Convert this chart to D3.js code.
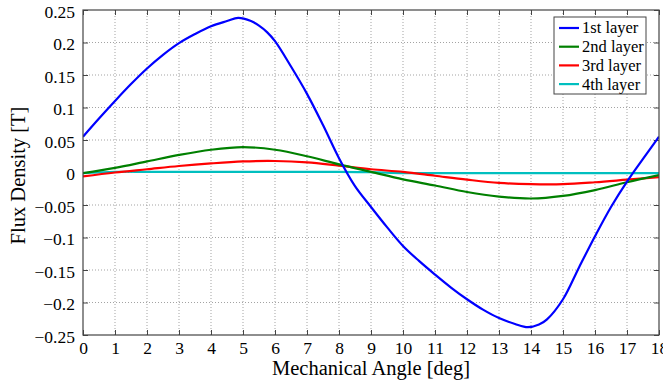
<!DOCTYPE html>
<html lang="en">
<head>
<meta charset="utf-8">
<style type="text/css">
    body { margin: 0; background: #fff; }
    svg { display: block; font-family: "Liberation Serif", "Times New Roman", serif; }
    svg text { font-family: "Liberation Serif", "Times New Roman", serif; }
    .grid line { stroke: #999; stroke-dasharray: 1,2; stroke-width: 0.9px; }
</style>
</head>
<body>
<svg width="663" height="383"></svg>
<script src="https://cdnjs.cloudflare.com/ajax/libs/d3/7.8.5/d3.min.js"></script>
<script type="text/javascript">

    // values
    var angles1 = [0, 0.5, 1, 1.5, 2, 2.5, 3, 3.5, 4, 4.5, 4.85, 5.25, 5.5, 5.75, 6, 6.5, 7, 7.5, 8, 8.5, 9, 9.5, 10,
                   10.5, 11, 11.5, 12, 12.5, 13, 13.5, 13.9, 14.25, 14.5, 15, 15.5, 16, 16.5, 17, 17.5, 18];
    var layer1 = [0.055, 0.083, 0.110, 0.136, 0.160, 0.181, 0.199, 0.213, 0.225, 0.233, 0.238, 0.233, 0.226, 0.216, 0.202, 0.163, 0.121, 0.073, 0.022, -0.021, -0.053, -0.084, -0.113,
                  -0.136, -0.157, -0.177, -0.195, -0.211, -0.224, -0.233, -0.238, -0.234, -0.226, -0.195, -0.146, -0.098, -0.053, -0.014, 0.021, 0.055];

    var angles = [0, 1, 2, 3, 4, 5, 6, 7, 8, 9, 10, 11, 12, 13, 14, 15, 16, 17, 18];
    var layer2 = [-0.001, 0.007, 0.017, 0.027, 0.035, 0.039, 0.035, 0.025, 0.0125, 0.001, -0.0105, -0.020, -0.030, -0.037, -0.040, -0.036, -0.027, -0.015, -0.004];
    var layer3 = [-0.006, 0.000, 0.005, 0.010, 0.014, 0.017, 0.0177, 0.0156, 0.0105, 0.005, 0.001, -0.005, -0.011, -0.016, -0.018, -0.018, -0.015, -0.011, -0.007];
    var layer4 = [-0.001, 0.001, 0.001, 0.001, 0.001, 0.001, 0.001, 0.001, 0.001, 0.0005, -0.001, -0.001, -0.001, -0.001, -0.001, -0.001, -0.001, -0.001, -0.001];

    var xTicks = d3.range(0, 19, 1);
    var yTicks = [-0.25, -0.2, -0.15, -0.1, -0.05, 0, 0.05, 0.1, 0.15, 0.2, 0.25];
    var names = ["1st layer", "2nd layer", "3rd layer", "4th layer"];
    var colors = ["#0000ff", "#008000", "#ff0000", "#00bfbf"];

    var series = [
        {name: names[0], x: angles1, y: layer1, color: colors[0]},
        {name: names[1], x: angles, y: layer2, color: colors[1]},
        {name: names[2], x: angles, y: layer3, color: colors[2]},
        {name: names[3], x: angles, y: layer4, color: colors[3]}
    ];

    var svg = d3.select("svg"),
        margin = {top: 10, right: 4, bottom: 48, left: 83},
        width = +svg.attr("width") - margin.left - margin.right,
        height = +svg.attr("height") - margin.top - margin.bottom;

    var g = svg.append("g").attr("transform", "translate(" + margin.left + "," + margin.top + ")");

    var x = d3.scaleLinear().domain([0, 18]).range([0, width]);
    var y = d3.scaleLinear().domain([-0.25, 0.25]).range([height, 0]);

    function fmt(d) {
        var s = d3.format("")(+d.toFixed(2));
        return s.replace("-", "\u2212");
    }

    // grid
    g.append("g").attr("class", "grid")
        .selectAll("line").data(xTicks.slice(1, -1)).enter().append("line")
        .attr("x1", function (d) { return x(d); }).attr("x2", function (d) { return x(d); })
        .attr("y1", 0).attr("y2", height);
    g.append("g").attr("class", "grid")
        .selectAll("line").data(yTicks.slice(1, -1)).enter().append("line")
        .attr("x1", 0).attr("x2", width)
        .attr("y1", function (d) { return y(d); }).attr("y2", function (d) { return y(d); });

    // axes (inner ticks, box style)
    var xAxis = g.append("g").attr("transform", "translate(0," + height + ")")
        .call(d3.axisBottom(x).tickValues(xTicks).tickSize(-5).tickPadding(6).tickFormat(fmt));
    var xTop = g.append("g")
        .call(d3.axisTop(x).tickValues(xTicks).tickSize(-5).tickFormat(""));
    var yAxis = g.append("g")
        .call(d3.axisLeft(y).tickValues(yTicks).tickSize(-5).tickPadding(8).tickFormat(fmt));
    var yRight = g.append("g").attr("transform", "translate(" + width + ",0)")
        .call(d3.axisRight(y).tickValues(yTicks).tickSize(-5).tickFormat(""));

    [xAxis, xTop, yAxis, yRight].forEach(function (a) {
        a.attr("font-family", "Liberation Serif, Times New Roman, serif").attr("font-size", 17.5);
        a.select(".domain").remove();
        a.selectAll(".tick line").attr("stroke", "#444");
        a.selectAll(".tick text").attr("fill", "#000");
    });
    xAxis.selectAll(".tick text").attr("dy", "0.74em");
    yAxis.selectAll(".tick text").attr("dy", "0.42em");

    // curves
    var line = d3.line()
        .x(function (d) { return x(d[0]); })
        .y(function (d) { return y(d[1]); })
        .curve(d3.curveCatmullRom.alpha(0.5));

    svg.append("defs").append("clipPath").attr("id", "plotclip")
        .append("rect").attr("width", width).attr("height", height);

    g.append("g").attr("clip-path", "url(#plotclip)")
        .selectAll("path").data(series.slice().reverse()).enter().append("path")
        .attr("d", function (s) { return line(d3.zip(s.x, s.y)); })
        .attr("fill", "none")
        .attr("stroke", function (s) { return s.color; })
        .attr("stroke-width", 2.2);

    g.append("rect")
        .attr("width", width).attr("height", height)
        .attr("fill", "none").attr("stroke", "#444").attr("stroke-width", 1.2);

    // legend
    var lg = svg.append("g").attr("transform", "translate(554,17)");
    lg.append("rect").attr("width", 92).attr("height", 77)
        .attr("fill", "#fff").attr("stroke", "#444").attr("stroke-width", 1);
    var item = lg.selectAll(".item").data(series).enter().append("g")
        .attr("transform", function (d, i) { return "translate(0," + (11 + i * 18.7) + ")"; });
    item.append("line").attr("x1", 5).attr("x2", 25)
        .attr("stroke", function (d) { return d.color; }).attr("stroke-width", 2.2);
    item.append("text").attr("x", 28).attr("dy", "0.33em")
        .style("font-size", "16.5px")
        .text(function (d) { return d.name; });

    // axis labels
    svg.append("text")
        .attr("x", margin.left + width / 2).attr("y", 375)
        .attr("text-anchor", "middle").style("font-size", "20.5px")
        .text("Mechanical Angle [deg]");
    svg.append("text")
        .attr("transform", "translate(25," + (margin.top + height / 2 + 3) + ") rotate(-90)")
        .attr("text-anchor", "middle").style("font-size", "20.5px")
        .text("Flux Density [T]");

</script>
</body>
</html>
